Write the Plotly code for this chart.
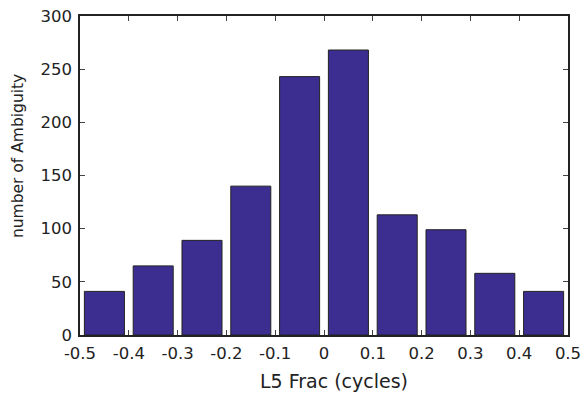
import plotly.graph_objects as go

centers = [-0.45, -0.35, -0.25, -0.15, -0.05, 0.05, 0.15, 0.25, 0.35, 0.45]
counts = [41, 65, 89, 140, 243, 268, 113, 99, 58, 41]
xticks = [-0.5, -0.4, -0.3, -0.2, -0.1, 0, 0.1, 0.2, 0.3, 0.4, 0.5]
xticklabels = ["-0.5", "-0.4", "-0.3", "-0.2", "-0.1", "0", "0.1", "0.2", "0.3", "0.4", "0.5"]
yticks = [0, 50, 100, 150, 200, 250, 300]
xtitle = "L5 Frac (cycles)"
ytitle = "number of Ambiguity"

FONT = "DejaVu Sans, Arial, sans-serif"

fig = go.Figure(go.Bar(
    x=centers, y=counts, width=0.082,
    marker=dict(color="#3c2e91", line=dict(color="#222222", width=1)),
))

axis_common = dict(
    showgrid=False, zeroline=False, showline=True, linecolor="#222222", linewidth=1.5,
    mirror="ticks", ticks="inside", ticklen=5, tickcolor="#444444", automargin=False,
    tickfont=dict(family=FONT, size=16.5, color="#222222"),
)

fig.update_layout(
    width=584, height=393,
    margin=dict(l=80, r=16, t=16, b=58),
    paper_bgcolor="white", plot_bgcolor="white",
    showlegend=False,
    xaxis=dict(range=[-0.5, 0.5], tickvals=xticks, ticktext=xticklabels,
               ticklabelstandoff=2, **axis_common),
    yaxis=dict(range=[0, 300], tickvals=yticks, ticklabelstandoff=3, **axis_common),
    annotations=[
        dict(text=xtitle, xref="paper", yref="paper", x=0.52, y=-0.144,
             xanchor="center", yanchor="middle", showarrow=False,
             font=dict(family=FONT, size=19, color="#222222")),
        dict(text=ytitle, xref="paper", yref="paper", x=-0.127, y=0.561,
             xanchor="center", yanchor="middle", showarrow=False, textangle=-90,
             font=dict(family=FONT, size=15.5, color="#222222")),
    ],
)

fig.write_html("out.html")
